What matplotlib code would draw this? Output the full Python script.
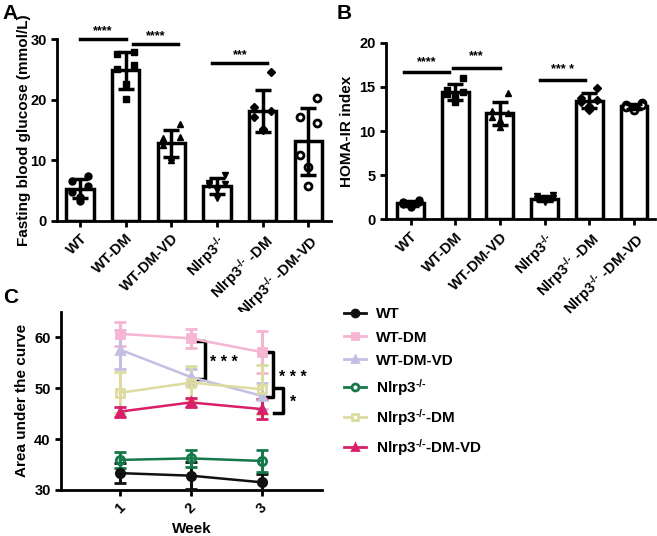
import numpy as np
import matplotlib
matplotlib.use("Agg")
import matplotlib.pyplot as plt
from matplotlib.lines import Line2D

plt.rcParams['font.family'] = ['Liberation Sans', 'DejaVu Sans']
plt.rcParams['font.weight'] = 'bold'
plt.rcParams['mathtext.default'] = 'regular'
plt.rcParams['axes.linewidth'] = 2

KO = 'Nlrp3$^{\u2010/\u2010}$'

# group names
groups = ['WT', 'WT-DM', 'WT-DM-VD', KO, KO + '-DM', KO + '-DM-VD']
tick_names = ['WT', 'WT-DM', 'WT-DM-VD', KO, KO + ' -DM', KO + ' -DM-VD']

# panel A - fasting blood glucose, individual mice
glucose = [
    [7.4, 6.5, 5.8, 4.8, 4.0, 3.3],
    [27.9, 27.6, 25.7, 25.1, 22.6, 20.1],
    [16.0, 13.7, 13.9, 12.6, 10.6, 10.0],
    [7.6, 6.3, 6.0, 5.9, 5.1, 3.7],
    [24.5, 18.8, 18.2, 17.2, 15.0, 15.1],
    [20.2, 17.2, 16.1, 10.9, 8.9, 5.7],
]

# panel B - HOMA-IR index
homa = [
    [2.2, 2.0, 1.9, 1.7, 1.6, 1.4],
    [16.0, 14.7, 14.4, 14.2, 13.9, 13.3],
    [14.3, 12.3, 12.1, 11.6, 11.2, 10.5],
    [2.7, 2.6, 2.4, 2.3, 2.1, 2.0],
    [14.9, 13.8, 13.5, 13.3, 12.8, 12.4],
    [13.2, 13.0, 12.9, 12.7, 12.6, 12.4],
]

# panel C - area under the curve by week (mean, sd)
weeks = [1, 2, 3]
auc_mean = [
    [33.3, 32.8, 31.5],
    [60.7, 59.8, 57.1],
    [57.6, 52.2, 48.5],
    [35.9, 36.2, 35.7],
    [49.1, 51.1, 49.8],
    [45.4, 47.2, 45.9],
]
auc_sd = [
    [2.0, 2.6, 1.7],
    [2.3, 1.8, 4.1],
    [3.9, 1.5, 2.5],
    [1.5, 1.6, 2.2],
    [4.0, 3.2, 4.8],
    [1.0, 0.8, 2.0],
]

point_markers = ['o', 's', '^', 'v', 'D', 'o']
point_filled = [True, True, True, True, True, False]
jitter = [0.18, -0.18, 0.18, -0.18, 0.0, 0.0]

line_colors = ['#111111', '#F6B5D3', '#C3BFE3', '#16794A', '#DCDCA0', '#D81F69']
line_markers = ['o', 's', '^', 'o', 's', '^']
line_fill = [True, True, True, False, False, True]

fig = plt.figure(figsize=(6.57, 5.36), dpi=100)


def bar_panel(ax, data, ylim, yticks, ylabel):
    x = np.arange(len(data))
    means = [np.mean(d) for d in data]
    sds = [np.std(d, ddof=1) for d in data]
    ax.bar(x, means, width=0.6, color='white', edgecolor='black', linewidth=2.5, zorder=2)
    for i, d in enumerate(data):
        mk = point_markers[i]
        ms = 5 if mk != 'D' else 4.2
        ax.plot(np.array(jitter[:len(d)]) + i, d, linestyle='none', marker=mk, ms=ms,
                mfc='black' if point_filled[i] else 'white', mec='black',
                mew=1 if point_filled[i] else 2, zorder=3, clip_on=False)
    ax.errorbar(x, means, yerr=sds, fmt='none', ecolor='black', elinewidth=2.5,
                capsize=6, capthick=2.5, zorder=4)
    ax.set_xlim(-0.5, 5.5)
    ax.set_ylim(*ylim)
    ax.set_yticks(yticks)
    ax.set_xticks(x)
    ax.set_xticklabels(tick_names, rotation=45, ha='right', rotation_mode='anchor',
                       fontsize=10, fontweight='bold')
    ax.set_ylabel(ylabel, fontsize=11, fontweight='bold')
    ax.spines['top'].set_visible(False)
    ax.spines['right'].set_visible(False)
    ax.tick_params(width=2, length=4, labelsize=10.5)


def sig(ax, x0, x1, y, text, ty):
    ax.plot([x0, x1], [y, y], color='black', lw=2.5, clip_on=False)
    ax.text((x0 + x1) / 2, ty, text, ha='center', va='center', fontsize=9, clip_on=False)


# Panel A
axA = fig.add_axes([0.087, 0.588, 0.417, 0.339])
bar_panel(axA, glucose, (0, 30), [0, 10, 20, 30], 'Fasting blood glucose (mmol/L)')
axA.yaxis.set_label_coords(-0.095, 0.5)
sig(axA, 0.0, 1.0, 30.0, '****', 31.3)
sig(axA, 1.15, 2.15, 29.2, '****', 30.5)
sig(axA, 2.9, 4.1, 26.0, '***', 27.3)

# Panel B
axB = fig.add_axes([0.5875, 0.591, 0.41, 0.329])
bar_panel(axB, homa, (0, 20), [0, 5, 10, 15, 20], 'HOMA-IR index')
axB.set_xlim(-0.55, 5.48)
sig(axB, -0.15, 0.87, 16.7, '****', 17.8)
sig(axB, 0.96, 2.0, 17.2, '***', 18.5)
sig(axB, 2.9, 3.9, 15.8, '*** *', 16.9)

# Panel C
axC = fig.add_axes([0.093, 0.086, 0.397, 0.332])
handles = []
for i, name in enumerate(groups):
    c = line_colors[i]
    axC.errorbar(weeks, auc_mean[i], yerr=auc_sd[i], color=c, lw=1.8,
                 marker=line_markers[i], ms=6, mfc=c if line_fill[i] else 'none',
                 mec=c, mew=2, elinewidth=2.2, capsize=4, capthick=2.2, zorder=3)
    handles.append(Line2D([], [], color=c, lw=2, marker=line_markers[i], ms=5,
                          mfc=c if line_fill[i] else 'white', mec=c, mew=2))
axC.set_xlim(0.17, 3.85)
axC.set_ylim(30, 65)
axC.set_yticks([30, 40, 50, 60])
axC.set_xticks(weeks)
axC.set_xticklabels([str(w) for w in weeks], rotation=45, fontsize=10.5)
axC.set_xlabel('Week', fontsize=11, fontweight='bold')
axC.set_ylabel('Area under the curve', fontsize=11, fontweight='bold')
axC.spines['top'].set_visible(False)
axC.spines['right'].set_visible(False)
axC.tick_params(width=2, length=4, labelsize=10.5)


def bracket(ax, x, x0, y0, y1, text, tx, ty):
    ax.plot([x0, x, x, x0], [y1, y1, y0, y0], color='black', lw=2.5, clip_on=False)
    ax.text(tx, ty, text, ha='center', va='center', fontsize=11.5, clip_on=False)


bracket(axC, 2.2, 2.06, 51.9, 59.3, '* * *', 2.47, 55.0)
bracket(axC, 3.16, 3.04, 48.3, 57.2, '* * *', 3.44, 52.2)
bracket(axC, 3.3, 3.18, 45.1, 50.0, '*', 3.44, 47.3)

fig.legend(handles, groups, loc='upper left', bbox_to_anchor=(0.502, 0.452),
           frameon=False, handlelength=1.5, handletextpad=0.6, labelspacing=0.6,
           prop={'weight': 'bold', 'size': 11})

fig.text(0.004, 0.992, 'A', fontsize=15, fontweight='bold', va='top')
fig.text(0.512, 0.992, 'B', fontsize=15, fontweight='bold', va='top')
fig.text(0.004, 0.462, 'C', fontsize=15, fontweight='bold', va='top')

fig.savefig('out.png', dpi=100)
